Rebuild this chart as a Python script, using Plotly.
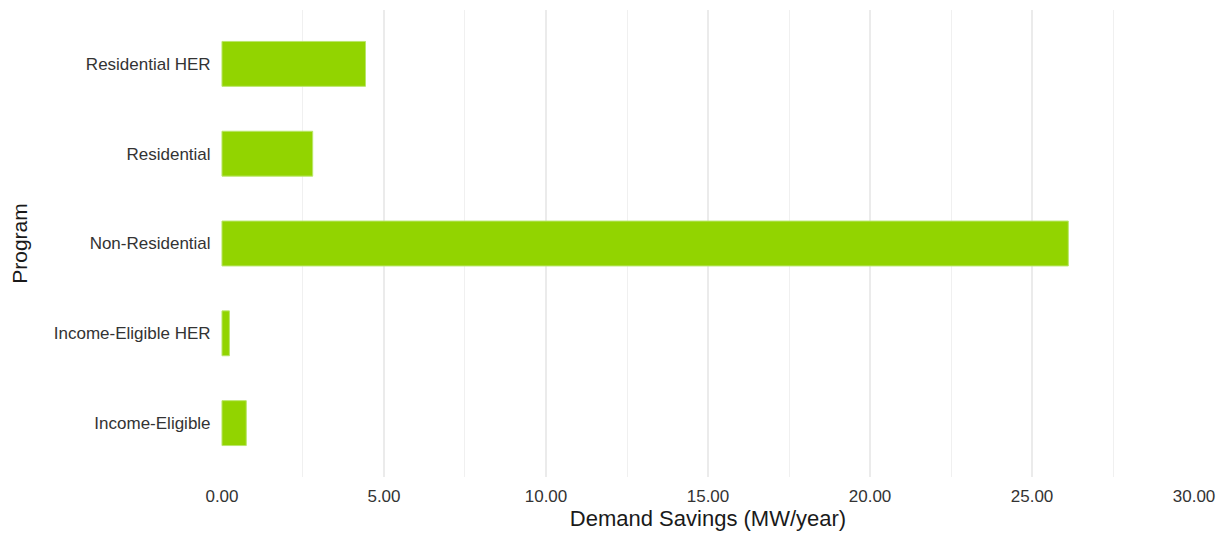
import plotly.graph_objects as go

programs = ["Income-Eligible", "Income-Eligible HER", "Non-Residential", "Residential", "Residential HER"]
savings = [0.75, 0.23, 26.12, 2.80, 4.43]
x_ticks = [0, 5, 10, 15, 20, 25, 30]
x_tick_labels = ["0.00", "5.00", "10.00", "15.00", "20.00", "25.00", "30.00"]

fig = go.Figure(go.Bar(
    x=savings, y=programs, orientation="h", width=0.5,
    marker=dict(color="#92D400", line=dict(color="#B9E66A", width=1)),
))

fig.update_layout(
    width=1220, height=528,
    margin=dict(l=213, r=33, t=2, b=59),
    plot_bgcolor="white", paper_bgcolor="white",
    font=dict(family="Liberation Sans, Arial, sans-serif", color="#333333", size=12),
    showlegend=False,
    xaxis=dict(
        range=[-0.03, 30.03], tickvals=x_ticks, ticktext=x_tick_labels,
        showgrid=True, gridcolor="#EBEBEB", gridwidth=1.5,
        minor=dict(dtick=2.5, tick0=0, showgrid=True, gridcolor="#F0F0F0", gridwidth=1),
        zeroline=False, showline=False, ticks="outside", ticklen=4, tickcolor="white",
        tickfont=dict(size=17, color="#333333"),
        title=dict(text="Demand Savings (MW/year)", font=dict(size=22, color="#1a1a1a"), standoff=3),
    ),
    yaxis=dict(
        categoryorder="array", categoryarray=programs,
        range=[-0.6, 4.6],
        showgrid=False, zeroline=False, showline=False, ticks="outside", ticklen=6, tickcolor="white",
        tickfont=dict(size=17, color="#333333"),
        title=dict(text="Program", font=dict(size=21, color="#1a1a1a"), standoff=25),
    ),
)

fig.write_html("out.html")
